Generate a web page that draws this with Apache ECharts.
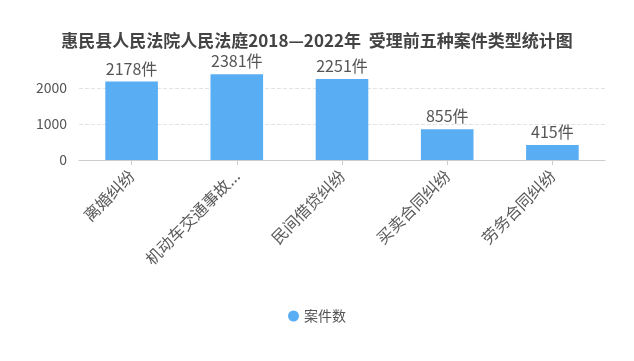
<!DOCTYPE html>
<html>
<head>
<meta charset="utf-8">
<script src="https://cdn.jsdelivr.net/npm/echarts@6/dist/echarts.min.js"></script>
<style>
html,body{margin:0;padding:0;background:#fff;}
#c{width:634px;height:361px;}
</style>
</head>
<body>
<div id="c"></div>
<script>
const titleText = '惠民县人民法院人民法庭2018—2022年  受理前五种案件类型统计图';
const categories = ['离婚纠纷', '机动车交通事故责任纠纷', '民间借贷纠纷', '买卖合同纠纷', '劳务合同纠纷'];
const seriesName = '案件数';
const caseCounts = [2178, 2381, 2251, 855, 415];
const labelSuffix = '件';

const FONT = '"Noto Sans CJK SC", "Noto Sans", sans-serif';
const chart = echarts.init(document.getElementById('c'), null, {renderer: 'canvas'});
chart.setOption({
  animation: false,
  textStyle: {fontFamily: FONT},
  title: {
    text: titleText,
    left: 'center',
    top: 27,
    textStyle: {fontSize: 17, fontWeight: 'bold', color: '#444', fontFamily: FONT}
  },
  legend: {
    data: [seriesName],
    bottom: 33,
    left: 'center',
    icon: 'circle',
    itemWidth: 11,
    itemHeight: 11,
    textStyle: {fontSize: 14, color: '#555', fontFamily: FONT}
  },
  grid: {left: 79, right: 29, top: 70, bottom: 201, containLabel: false},
  xAxis: {
    type: 'category',
    data: categories,
    axisLine: {lineStyle: {color: '#ccc'}},
    axisTick: {show: true, alignWithLabel: true, lineStyle: {color: '#ccc'}},
    axisLabel: {
      rotate: 45,
      fontSize: 16,
      color: '#5a5a5a',
      interval: 0,
      margin: 13,
      width: 135,
      overflow: 'truncate',
      fontFamily: FONT
    }
  },
  yAxis: {
    type: 'value',
    min: 0,
    max: 2500,
    interval: 1000,
    axisLine: {show: false},
    axisTick: {show: false},
    axisLabel: {fontSize: 14, color: '#555', margin: 12, showMaxLabel: false, fontFamily: FONT,
      formatter: v => String(v)},
    splitLine: {show: true, showMaxLine: false, lineStyle: {type: 'dashed', color: '#e3e3e3'}}
  },
  series: [{
    name: seriesName,
    type: 'bar',
    data: caseCounts,
    barWidth: '50%',
    itemStyle: {color: '#59adf3'},
    label: {
      show: true,
      position: 'top',
      fontSize: 16,
      color: '#555',
      fontFamily: FONT,
      formatter: p => p.value + labelSuffix
    }
  }]
});
</script>
</body>
</html>
